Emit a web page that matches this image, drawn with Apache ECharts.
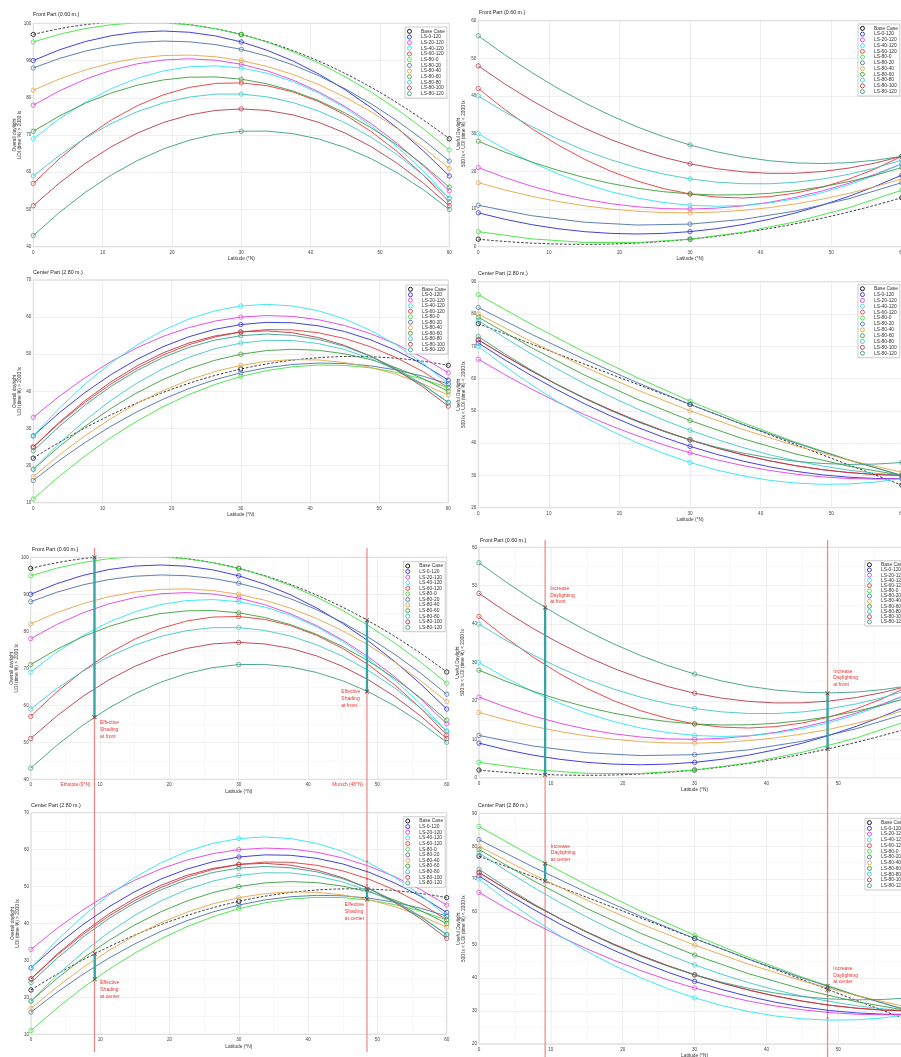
<!DOCTYPE html>
<html><head><meta charset="utf-8">
<script src="https://cdn.jsdelivr.net/npm/echarts@6/dist/echarts.min.js"></script>
<style>html,body{margin:0;padding:0;background:#fff}#c{width:901px;height:1057px}</style>
</head><body><div id="c"></div>
<script>
// ---------------- data ----------------
const latitudes = [0, 30, 60];
const xTicks = [0, 10, 20, 30, 40, 50, 60];
const seriesNames = ['Base Case', 'LS-0-120', 'LS-20-120', 'LS-40-120', 'LS-60-120', 'LS-80-0',
  'LS-80-20', 'LS-80-40', 'LS-80-60', 'LS-80-80', 'LS-80-100', 'LS-80-120'];

// values at latitude 0, 30, 60 (one row per series, same order as seriesNames)
const frontOverall = [
  [97, 97, 69], [90, 95, 59], [78, 89, 55], [69, 88, 53], [57, 84, 52], [95, 97, 66],
  [88, 93, 63], [82, 90, 61], [71, 85, 56], [59, 81, 53], [51, 77, 51], [43, 71, 50]
];
const frontUseful = [
  [2, 2, 13], [9, 4, 19], [21, 10, 22], [30, 11, 22], [42, 14, 24], [4, 2, 15],
  [11, 6, 17], [17, 9, 18], [28, 14, 21], [40, 18, 23], [48, 22, 24], [56, 27, 24]
];
const centerOverall = [
  [22, 46, 47], [28, 58, 43], [33, 60, 45], [28, 63, 42], [25, 56, 41], [11, 44, 41],
  [16, 45, 42], [17, 47, 39], [19, 50, 40], [19, 53, 37], [25, 56, 36], [24, 55, 37]
];
const centerUseful = [
  [77, 52, 27], [71, 39, 29], [66, 37, 29], [70, 34, 29], [72, 41, 30], [86, 53, 30],
  [82, 52, 30], [80, 50, 31], [79, 47, 30], [78, 44, 30], [72, 41, 30], [73, 41, 34]
];

const frontOverallYTicks = [40, 50, 60, 70, 80, 90, 100];
const frontUsefulYTicks = [0, 10, 20, 30, 40, 50, 60];
const centerOverallYTicks = [10, 20, 30, 40, 50, 60, 70];
const centerUsefulYTicks = [20, 30, 40, 50, 60, 70, 80, 90];

// annotation bars: [latitude, upper value, lower value]
const siteLatitudes = [9.2, 48.5];
const siteNames = ['Ethiopia (9°N)', 'Munich (48°N)'];
const frontOverallBars = [[9.2, 100, 56.8], [48.5, 83, 63.7]];
const frontUsefulBars = [[9.2, 44.3, 0.8], [48.5, 22, 7.5]];
const centerOverallBars = [[9.2, 31.8, 24.9], [48.5, 49.3, 46.5]];
const centerUsefulBars = [[9.2, 74.8, 69.4], [48.5, 37.6, 36.5]];
const centerOverallMunichMarks = [56.8, 54.1, 52.1, 50.4];
const centerUsefulMunichMarks = [35.8, 34.5, 33.1, 31.8, 29.7, 27.9];

// ---------------- styles / layout ----------------
const colors = ['#000000', '#2b2bd9', '#e040e0', '#2fe3f0', '#e33a3a', '#3ee23e',
  '#4d72a8', '#e3a64a', '#3c9e3c', '#3fc6c6', '#b53a4a', '#3a9d84'];
const FONT = "'Liberation Sans', Arial, Helvetica, sans-serif";
const overallName = 'Overall daylight\nUDI (time %) > 2000 lx';
const usefulName = 'Useful Daylight\n500 lx < UDI (time %) < 2000 lx';

const panels = [
  {values: frontOverall, yTicks: frontOverallYTicks, title: 'Front Part (0.60 m.)', yName: overallName,
   grid: {left: 33.3, top: 23.3, width: 416, height: 223.4}, titlePos: [33, 12], legendPos: [405, 27, 71], yGap: 11.5, minor: false},
  {values: frontUseful, yTicks: frontUsefulYTicks, title: 'Front Part (0.60 m.)', yName: usefulName,
   grid: {left: 478.3, top: 20.7, width: 423.5, height: 226}, titlePos: [479, 10.3], legendPos: [858, 24, 72], yGap: 12.5, minor: false},
  {values: centerOverall, yTicks: centerOverallYTicks, title: 'Center Part (2.80 m.)', yName: overallName,
   grid: {left: 33.3, top: 280, width: 415, height: 222.7}, titlePos: [33, 270.3], legendPos: [406, 285, 69], yGap: 11.5, minor: false},
  {values: centerUseful, yTicks: centerUsefulYTicks, title: 'Center Part (2.80 m.)', yName: usefulName,
   grid: {left: 478.3, top: 281.7, width: 423.5, height: 226}, titlePos: [478, 271.3], legendPos: [858, 284.3, 73.4], yGap: 12.5, minor: false},
  {values: frontOverall, yTicks: frontOverallYTicks, title: 'Front Part (0.60 m.)', yName: overallName,
   grid: {left: 30.7, top: 557.3, width: 416, height: 222}, titlePos: [32, 547], legendPos: [403.3, 561.7, 70], yGap: 11.3, minor: true, bars: frontOverallBars},
  {values: frontUseful, yTicks: frontUsefulYTicks, title: 'Front Part (0.60 m.)', yName: usefulName,
   grid: {left: 479, top: 547.3, width: 431.2, height: 230.4}, titlePos: [480, 538], legendPos: [865, 560.7, 65.3], yGap: 14, minor: true, bars: frontUsefulBars},
  {values: centerOverall, yTicks: centerOverallYTicks, title: 'Center Part (2.80 m.)', yName: overallName,
   grid: {left: 31, top: 812.7, width: 415.7, height: 221.6}, titlePos: [31, 802.7], legendPos: [403.3, 816.7, 70.6], yGap: 11.3, minor: true, bars: centerOverallBars, marks: centerOverallMunichMarks},
  {values: centerUseful, yTicks: centerUsefulYTicks, title: 'Center Part (2.80 m.)', yName: usefulName,
   grid: {left: 479, top: 813.3, width: 431.2, height: 230.7}, titlePos: [478, 803], legendPos: [865, 818.3, 71.7], yGap: 13, minor: true, bars: centerUsefulBars, marks: centerUsefulMunichMarks}
];

const annotations = [
  {panel: 4, lat: 10, val: 56.1, text: 'Effective\nShading\nat front'},
  {panel: 4, lat: 44.8, val: 64.5, text: 'Effective\nShading\nat front'},
  {panel: 5, lat: 9.9, val: 50.1, text: 'Increase\nDaylighting\nat front'},
  {panel: 5, lat: 49.3, val: 28.6, text: 'Increase\nDaylighting\nat front'},
  {panel: 6, lat: 10, val: 24.8, text: 'Effective\nShading\nat center'},
  {panel: 6, lat: 45.3, val: 45.9, text: 'Effective\nShading\nat center'},
  {panel: 7, lat: 10, val: 81, text: 'Increase\nDaylighting\nat center'},
  {panel: 7, lat: 49.3, val: 43.9, text: 'Increase\nDaylighting\nat center'}
];

// quadratic curve through the three read points, drawn in the axes' pixel space
function makeCurve(color, dashed) {
  return function (params, api) {
    const p0 = api.coord([api.value(0), api.value(1)]);
    const p1 = api.coord([api.value(2), api.value(3)]);
    const p2 = api.coord([api.value(4), api.value(5)]);
    const cs = params.coordSys;
    return {
      type: 'bezierCurve',
      shape: {x1: p0[0], y1: p0[1], x2: p2[0], y2: p2[1],
              cpx1: 2 * p1[0] - (p0[0] + p2[0]) / 2, cpy1: 2 * p1[1] - (p0[1] + p2[1]) / 2},
      style: {fill: 'none', stroke: color, lineWidth: dashed ? 0.8 : 0.9, lineDash: dashed ? [2.5, 1.8] : null},
      clipPath: {type: 'rect', shape: {x: cs.x, y: cs.y, width: cs.width, height: cs.height}}
    };
  };
}

const X_SYMBOL = 'path://M0,1.2L1.2,0L5,3.8L8.8,0L10,1.2L6.2,5L10,8.8L8.8,10L5,6.2L1.2,10L0,8.8L3.8,5Z';

const option = {
  animation: false, backgroundColor: '#fff', textStyle: {fontFamily: FONT},
  title: [], legend: [], grid: [], xAxis: [], yAxis: [], series: []
};

panels.forEach((p, i) => {
  const yt = p.yTicks;
  option.title.push({text: p.title, left: p.titlePos[0], top: p.titlePos[1], padding: 0,
    textStyle: {fontSize: 5.3, fontWeight: 'normal', color: '#222', fontFamily: FONT}});
  option.grid.push({left: p.grid.left, top: p.grid.top, width: p.grid.width, height: p.grid.height,
    show: true, borderColor: '#b5b5b5', borderWidth: 0.6, backgroundColor: 'rgba(0,0,0,0)',
    containLabel: false, outerBoundsMode: 'none'});
  option.xAxis.push({type: 'value', gridIndex: i, min: xTicks[0], max: xTicks[xTicks.length - 1],
    interval: xTicks[1] - xTicks[0], name: 'Latitude (°N)', nameLocation: 'middle', nameGap: 9.6,
    nameMoveOverlap: false,
    nameTextStyle: {fontSize: 4.8, color: '#333', fontFamily: FONT},
    axisLine: {show: false}, axisTick: {show: false},
    axisLabel: {fontSize: 4.6, color: '#444', margin: 3.4, fontFamily: FONT},
    splitLine: {show: true, lineStyle: {color: '#e4e4e4', width: 0.6}},
    minorTick: {show: false, splitNumber: 2},
    minorSplitLine: {show: p.minor, lineStyle: {color: '#f1f1f1', width: 0.5}}});
  option.yAxis.push({type: 'value', gridIndex: i, min: yt[0], max: yt[yt.length - 1], interval: yt[1] - yt[0],
    name: p.yName, nameLocation: 'middle', nameGap: p.yGap, nameRotate: 90, nameMoveOverlap: false,
    nameTextStyle: {fontSize: 4.8, color: '#333', lineHeight: 5, fontFamily: FONT},
    axisLine: {show: false}, axisTick: {show: false},
    axisLabel: {fontSize: 4.6, color: '#444', margin: 2, fontFamily: FONT},
    splitLine: {show: true, lineStyle: {color: '#e4e4e4', width: 0.6}},
    minorTick: {show: false, splitNumber: 2},
    minorSplitLine: {show: p.minor, lineStyle: {color: '#f1f1f1', width: 0.5}}});
  option.legend.push({orient: 'vertical', left: p.legendPos[0], top: p.legendPos[1],
    padding: [1.5, 2], itemGap: 0, itemWidth: 5, itemHeight: 4, selectedMode: false,
    backgroundColor: '#fff', borderColor: '#a8a8a8', borderWidth: 0.6,
    textStyle: {fontSize: 4.9, color: '#333', lineHeight: (p.legendPos[2] - 3) / 12, padding: [0, 0, 0, 4], fontFamily: FONT},
    data: seriesNames.map((n, k) => ({name: n, icon: 'circle',
      itemStyle: {color: '#fff', borderColor: colors[k], borderWidth: 0.9}}))});

  p.values.forEach((vals, k) => {
    const name = seriesNames[k];
    option.series.push({type: 'custom', name, xAxisIndex: i, yAxisIndex: i, clip: true, silent: true, z: 2,
      itemStyle: {color: colors[k]},
      data: [[latitudes[0], vals[0], latitudes[1], vals[1], latitudes[2], vals[2]]],
      encode: {x: [0, 2, 4], y: [1, 3, 5]},
      renderItem: makeCurve(colors[k], k === 0)});
    option.series.push({type: 'scatter', name, xAxisIndex: i, yAxisIndex: i, clip: false, silent: true, z: 3,
      symbol: 'circle', symbolSize: 4.4,
      itemStyle: {color: 'rgba(255,255,255,0)', borderColor: colors[k], borderWidth: 0.9},
      data: latitudes.map((x, j) => [x, vals[j]])});
  });

  (p.bars || []).forEach((b, j) => {
    option.series.push({type: 'line', name: 'bar-' + i + '-' + j, xAxisIndex: i, yAxisIndex: i, clip: false,
      silent: true, z: 4, symbol: X_SYMBOL, symbolSize: 4.5,
      itemStyle: {color: '#6b4646'}, lineStyle: {color: '#33a3a3', width: 2.3},
      data: [[b[0], b[1]], [b[0], b[2]]]});
  });
  if (p.marks) {
    option.series.push({type: 'scatter', name: 'marks-' + i, xAxisIndex: i, yAxisIndex: i, silent: true, z: 5,
      symbol: 'circle', symbolSize: 1.8, itemStyle: {color: '#e03a3a'},
      data: p.marks.map(v => [siteLatitudes[1], v])});
  }
});

const chart = echarts.init(document.getElementById('c'), null, {renderer: 'canvas', width: 901, height: 1057});
chart.setOption(option);

// ---- annotations positioned through the axes' scales ----
const graphics = [];
const lineSpans = [{xAxisIndex: 4, y1: 548, y2: 1052}, {xAxisIndex: 5, y1: 540, y2: 1057}];
lineSpans.forEach(s => {
  siteLatitudes.forEach(lat => {
    const px = chart.convertToPixel({xAxisIndex: s.xAxisIndex}, lat);
    graphics.push({type: 'line', silent: true, z: 1,
      shape: {x1: px, y1: s.y1, x2: px, y2: s.y2},
      style: {stroke: '#ef8585', lineWidth: 1.2}});
  });
});
annotations.forEach(a => {
  const pt = chart.convertToPixel({gridIndex: a.panel}, [a.lat, a.val]);
  graphics.push({type: 'text', silent: true, z: 10, x: pt[0], y: pt[1],
    style: {text: a.text, fill: '#e83535', font: '5px ' + FONT, lineHeight: 6.7, align: 'left', verticalAlign: 'top'}});
});
siteLatitudes.forEach((lat, j) => {
  const pt = chart.convertToPixel({gridIndex: 4}, [lat, frontOverallYTicks[0]]);
  graphics.push({type: 'text', silent: true, z: 10, x: pt[0] - 4, y: pt[1] + 5.8,
    style: {text: siteNames[j], fill: '#e83535', font: '4.8px ' + FONT, align: 'right', verticalAlign: 'middle'}});
});
chart.setOption({graphic: graphics});
</script></body></html>
